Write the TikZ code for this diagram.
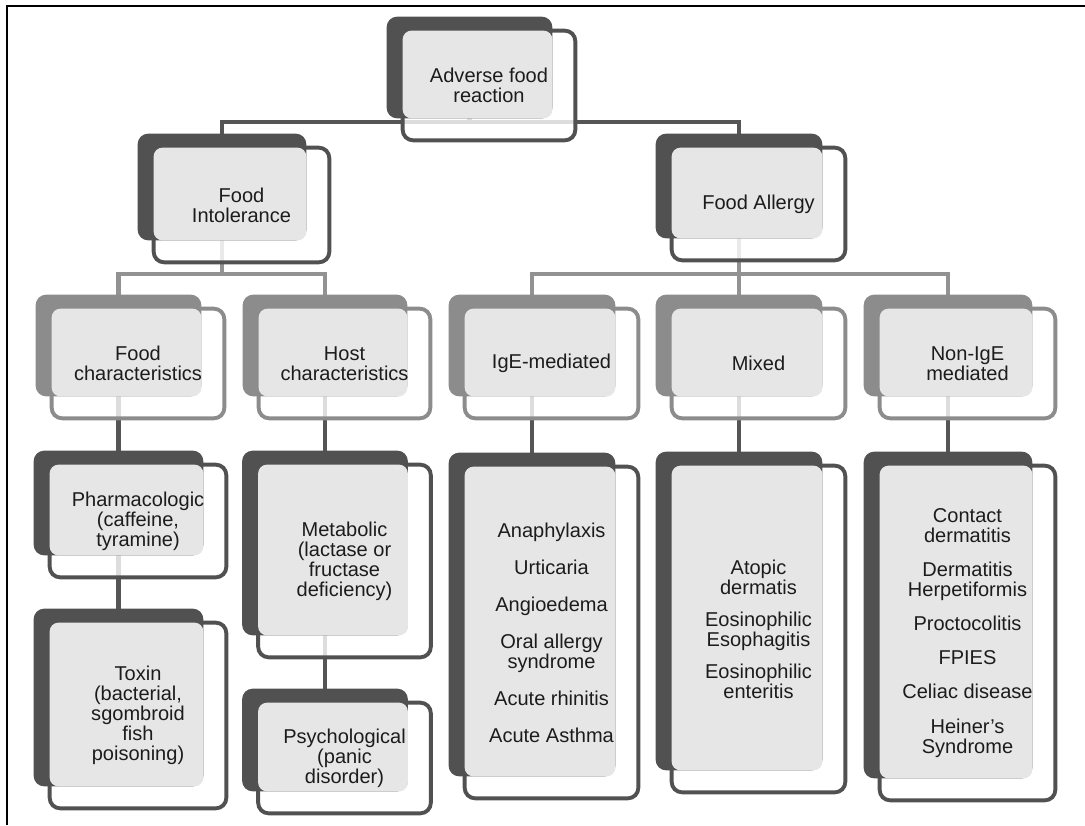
\documentclass[tikz,border=0pt]{standalone}
\usepackage{fontspec}
\setmainfont{Liberation Sans}
\usetikzlibrary{calc, positioning, backgrounds}
\definecolor{boxdark}{HTML}{515151}
\definecolor{boxmid}{HTML}{8C8C8C}
\definecolor{boxfill}{HTML}{E6E6E6}
\definecolor{linkdark}{HTML}{555555}
\definecolor{linkmid}{HTML}{929292}
\definecolor{boxtext}{HTML}{1C1C1C}

\newcommand{\boxfont}{\fontsize{11.4}{11.4}\selectfont}

% front box, the darker box behind it and the grey overlap
\newcommand{\stackbox}[3]{%
  \draw[line width=2.2pt, rounded corners=6pt, draw=#3, fill=white, fill opacity=0.8, draw opacity=1]
    (#1.north west) rectangle (#1.south east);
  \fill[#2, rounded corners=6pt] ($(#1.north west)+(-16,-14)$) rectangle ($(#1.south east)+(-23,-22)$);
  \fill[boxfill, rounded corners=5pt] (#1.north west) rectangle ($(#1.south east)+(-23,-22)$);
}

\tikzset{
  box/.style={inner sep=0pt, align=center, text=boxtext, font=\boxfont},
  boxsize/.style 2 args={minimum width=#1*0.02cm, minimum height=#2*0.02cm},
  darklink/.style={draw=linkdark, line width=2.3pt},
  midlink/.style={draw=linkmid, line width=2.3pt}
}

\begin{document}
\begin{tikzpicture}[x=0.02cm, y=-0.02cm]
    \useasboundingbox (0,0) rectangle (1085,825);
    \draw[line width=1.6pt] (7,825) -- (7,6) -- (1085,6);

    % levels 1 and 2
    \node (adv) [box, boxsize={172}{109}] at (489,85.5) {Adverse food\\reaction};
    \node (fi) [box, boxsize={175}{114}] at (241.5,205) {Food\\Intolerance};
    \node (fa) [box, boxsize={173}{112}] at (758.5,204) {Food Allergy};

    % level 3
    \node (fc) [box, boxsize={172}{109}] at (138,363.5) {Food\\characteristics};
    \node (hc) [box, boxsize={171}{109}] at (344.5,363.5) {Host\\characteristics};
    \node (ige) [box, boxsize={173}{109}] at (551.5,363.5) {IgE-mediated};
    \node (mix) [box, boxsize={173}{109}] at (758.5,363.5) {Mixed};
    \node (nonige) [box, boxsize={175}{109}] at (967.5,363.5) {Non-IgE\\mediated};

    % level 4
    \node (pharm) [box, boxsize={176}{112}] at (138,521) {Pharmacologic\\(caffeine,\\tyramine)};
    \node (toxin) [box, boxsize={176}{185}] at (138,715.5) {Toxin\\(bacterial,\\sgombroid\\fish\\poisoning)};
    \node (metab) [box, boxsize={172}{192}] at (344.5,561) {Metabolic\\(lactase or\\fructase\\deficiency)};
    \node (psych) [box, boxsize={172}{110}] at (344.5,758) {Psychological\\(panic\\disorder)};
    \node (igel) [box, boxsize={173}{331}] at (551.5,632.5)
        {Anaphylaxis\\[0.34cm] Urticaria\\[0.34cm] Angioedema\\[0.34cm] Oral allergy\\syndrome\\[0.34cm]
         Acute rhinitis\\[0.34cm] Acute Asthma};
    \node (mixl) [box, boxsize={173}{326}] at (758.5,629)
        {Atopic\\dermatis\\[0.24cm] Eosinophilic\\Esophagitis\\[0.24cm] Eosinophilic\\enteritis};
    \node (nonl) [box, boxsize={175}{334}] at (967.5,633)
        {Contact\\dermatitis\\[0.28cm] Dermatitis\\Herpetiformis\\[0.28cm] Proctocolitis\\[0.28cm] FPIES\\[0.28cm]
         Celiac disease\\[0.28cm] Heiner’s\\Syndrome};

    \begin{pgfonlayer}{background}
        % connectors
        \draw[darklink] ($(adv.south)+(-19.5,-22)$) |- ($(fi.north)+(-19.5,-26)$) -- ($(fi.north)+(-19.5,-14)$);
        \draw[darklink] ($(adv.south)+(-19.5,-22)$) |- ($(fa.north)+(-19.5,-26)$) -- ($(fa.north)+(-19.5,-14)$);
        \draw[midlink] ($(fi.south)+(-19.5,-22)$) |- ($(fc.north)+(-19.5,-35)$) -- ($(fc.north)+(-19.5,-14)$);
        \draw[midlink] ($(fi.south)+(-19.5,-22)$) |- ($(hc.north)+(-19.5,-35)$) -- ($(hc.north)+(-19.5,-14)$);
        \draw[midlink] ($(fa.south)+(-19.5,-22)$) |- ($(ige.north)+(-19.5,-35)$) -- ($(ige.north)+(-19.5,-14)$);
        \draw[midlink] ($(fa.south)+(-19.5,-22)$) -- ($(mix.north)+(-19.5,-14)$);
        \draw[midlink] ($(fa.south)+(-19.5,-22)$) |- ($(nonige.north)+(-19.5,-35)$) -- ($(nonige.north)+(-19.5,-14)$);
        \draw[darklink] ($(fc.south)+(-19.5,-22)$) -- ($(pharm.north)+(-19.5,-14)$);
        \draw[darklink] ($(pharm.south)+(-19.5,-22)$) -- ($(toxin.north)+(-19.5,-14)$);
        \draw[darklink] ($(hc.south)+(-19.5,-22)$) -- ($(metab.north)+(-19.5,-14)$);
        \draw[darklink] ($(metab.south)+(-19.5,-22)$) -- ($(psych.north)+(-19.5,-14)$);
        \draw[darklink] ($(ige.south)+(-19.5,-22)$) -- ($(igel.north)+(-19.5,-14)$);
        \draw[darklink] ($(mix.south)+(-19.5,-22)$) -- ($(mixl.north)+(-19.5,-14)$);
        \draw[darklink] ($(nonige.south)+(-19.5,-22)$) -- ($(nonl.north)+(-19.5,-14)$);

        % boxes
        \stackbox{adv}{boxdark}{boxdark}
        \stackbox{fi}{boxdark}{boxdark}
        \stackbox{fa}{boxdark}{boxdark}
        \stackbox{fc}{boxmid}{boxmid}
        \stackbox{hc}{boxmid}{boxmid}
        \stackbox{ige}{boxmid}{boxmid}
        \stackbox{mix}{boxmid}{boxmid}
        \stackbox{nonige}{boxmid}{boxmid}
        \stackbox{pharm}{boxdark}{boxdark}
        \stackbox{toxin}{boxdark}{boxdark}
        \stackbox{metab}{boxdark}{boxdark}
        \stackbox{psych}{boxdark}{boxdark}
        \stackbox{igel}{boxdark}{boxdark}
        \stackbox{mixl}{boxdark}{boxdark}
        \stackbox{nonl}{boxdark}{boxdark}
    \end{pgfonlayer}

\end{tikzpicture}
\end{document}
